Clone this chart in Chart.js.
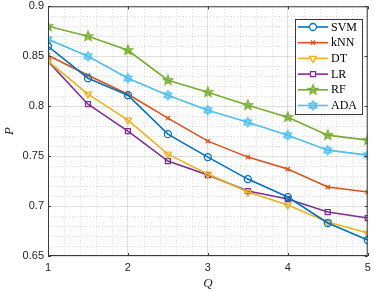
<!DOCTYPE html>
<html>
<head>
<meta charset="utf-8">
<script src="https://cdn.jsdelivr.net/npm/chart.js"></script>
<style>
  html, body { margin: 0; padding: 0; background: #fff; }
  #wrap { width: 374px; height: 291px; position: relative; }
</style>
</head>
<body>
<div id="wrap"><canvas id="chart"></canvas></div>
<script>
// Q 값 (x축)
const qValues = [1, 1.5, 2, 2.5, 3, 3.5, 4, 4.5, 5];

// 각 분류기의 P 값
const svm = [0.860, 0.828, 0.811, 0.772, 0.749, 0.727, 0.709, 0.683, 0.666];
const knn = [0.851, 0.831, 0.812, 0.788, 0.765, 0.749, 0.737, 0.719, 0.714];
const dt  = [0.845, 0.812, 0.786, 0.752, 0.732, 0.714, 0.701, 0.684, 0.673];
const lr  = [0.845, 0.802, 0.775, 0.745, 0.731, 0.715, 0.707, 0.694, 0.688];
const rf  = [0.880, 0.870, 0.856, 0.826, 0.814, 0.801, 0.789, 0.771, 0.766];
const ada = [0.867, 0.850, 0.828, 0.811, 0.796, 0.784, 0.771, 0.756, 0.751];

const seriesNames = ['SVM', 'kNN', 'DT', 'LR', 'RF', 'ADA'];
const xTicks = [1, 2, 3, 4, 5];
const yTicks = [0.65, 0.7, 0.75, 0.8, 0.85, 0.9];

const colors = ['#0072BD', '#D95319', '#EDB120', '#7E2F8E', '#77AC30', '#4DBEEE'];

// 별 모양 마커 (pentagram / hexagram)
function starMarker(color, points, r, innerRatio) {
  const size = Math.ceil(r * 2 + 4);
  const c = document.createElement('canvas');
  c.width = size; c.height = size;
  const g = c.getContext('2d');
  const cx = size / 2, cy = size / 2;
  const inner = r * innerRatio;
  g.beginPath();
  for (let i = 0; i < points * 2; i++) {
    const rad = i % 2 === 0 ? r : inner;
    const a = -Math.PI / 2 + i * Math.PI / points;
    const px = cx + rad * Math.cos(a), py = cy + rad * Math.sin(a);
    if (i === 0) g.moveTo(px, py); else g.lineTo(px, py);
  }
  g.closePath();
  g.globalAlpha = 0.55;
  g.fillStyle = color;
  g.fill();
  g.globalAlpha = 1;
  g.strokeStyle = color;
  g.lineWidth = 1.3;
  g.lineJoin = 'miter';
  g.stroke();
  return c;
}

const rfStar = starMarker(colors[4], 5, 5, 0.42);
const adaStar = starMarker(colors[5], 6, 4.5, 0.55);

function toPoints(vals) {
  return vals.map((v, i) => ({ x: qValues[i], y: v }));
}

const styles = [
  { pointStyle: 'circle', pointRadius: 3.5, rotation: 0 },
  { pointStyle: 'crossRot', pointRadius: 3, rotation: 0 },
  { pointStyle: 'triangle', pointRadius: 4, rotation: 180 },
  { pointStyle: 'rect', pointRadius: 3.5, rotation: 0 },
  { pointStyle: rfStar, pointRadius: 5, rotation: 0 },
  { pointStyle: adaStar, pointRadius: 5, rotation: 0 }
];

const allValues = [svm, knn, dt, lr, rf, ada];

const datasets = allValues.map((vals, i) => ({
  label: seriesNames[i],
  data: toPoints(vals),
  borderColor: colors[i],
  backgroundColor: 'rgba(0,0,0,0)',
  borderWidth: 1.6,
  pointStyle: styles[i].pointStyle,
  pointRadius: styles[i].pointRadius,
  pointRotation: styles[i].rotation,
  pointBorderWidth: 1.3,
  pointBorderColor: colors[i],
  pointBackgroundColor: 'rgba(0,0,0,0)',
  tension: 0
}));

// 보조 격자, 축 상자, 안쪽 눈금 그리기
const axesPlugin = {
  id: 'matlabAxes',
  beforeDatasetsDraw(chart) {
    const { ctx, chartArea: a, scales: { x, y } } = chart;
    ctx.save();
    ctx.strokeStyle = 'rgba(38,38,38,0.2)';
    ctx.lineWidth = 0.8;
    ctx.setLineDash([1, 2]);
    for (let v = 1; v <= 5.0001; v += 0.2) {
      if (Math.abs(v - Math.round(v)) < 1e-6) continue;
      const px = Math.round(x.getPixelForValue(v)) + 0.5;
      ctx.beginPath(); ctx.moveTo(px, a.top); ctx.lineTo(px, a.bottom); ctx.stroke();
    }
    for (let i = 0; i <= 25; i++) {
      const v = 0.65 + i * 0.01;
      if (i % 5 === 0) continue;
      const py = Math.round(y.getPixelForValue(v)) + 0.5;
      ctx.beginPath(); ctx.moveTo(a.left, py); ctx.lineTo(a.right, py); ctx.stroke();
    }
    ctx.restore();
  },
  afterDatasetsDraw(chart) {
    const { ctx, chartArea: a, scales: { x, y } } = chart;
    ctx.save();
    ctx.strokeStyle = '#3a3a3a';
    ctx.lineWidth = 1;
    ctx.strokeRect(a.left + 0.5, a.top + 0.5, a.right - a.left - 1, a.bottom - a.top - 1);
    const t = 3;
    xTicks.forEach(v => {
      const px = Math.round(x.getPixelForValue(v)) + 0.5;
      ctx.beginPath();
      ctx.moveTo(px, a.bottom); ctx.lineTo(px, a.bottom - t);
      ctx.moveTo(px, a.top); ctx.lineTo(px, a.top + t);
      ctx.stroke();
    });
    yTicks.forEach(v => {
      const py = Math.round(y.getPixelForValue(v)) + 0.5;
      ctx.beginPath();
      ctx.moveTo(a.left, py); ctx.lineTo(a.left + t, py);
      ctx.moveTo(a.right, py); ctx.lineTo(a.right - t, py);
      ctx.stroke();
    });
    ctx.restore();
  },
  afterDraw(chart) {
    // 범례 (플롯 안쪽 오른쪽 위)
    const { ctx } = chart;
    const box = { x: 295.5, y: 19.5, w: 67, h: 95 };
    ctx.save();
    ctx.fillStyle = '#fff';
    ctx.fillRect(box.x, box.y, box.w, box.h);
    ctx.strokeStyle = '#3a3a3a';
    ctx.lineWidth = 1;
    ctx.strokeRect(box.x, box.y, box.w, box.h);
    ctx.font = '12px "Liberation Serif", serif';
    ctx.textBaseline = 'middle';
    chart.data.datasets.forEach((ds, i) => {
      const cy = 27 + i * 15.7;
      ctx.strokeStyle = ds.borderColor;
      ctx.lineWidth = ds.borderWidth;
      ctx.beginPath(); ctx.moveTo(298, cy); ctx.lineTo(328, cy); ctx.stroke();
      ctx.lineWidth = ds.pointBorderWidth;
      ctx.fillStyle = '#fff';
      Chart.helpers.drawPoint(ctx, {
        pointStyle: ds.pointStyle,
        rotation: ds.pointRotation,
        radius: ds.pointRadius,
        borderWidth: ds.pointBorderWidth
      }, 313, cy);
      ctx.fillStyle = '#000';
      ctx.fillText(ds.label, 331, cy + 0.5);
    });
    ctx.restore();
  }
};

new Chart(document.getElementById('chart'), {
  type: 'line',
  data: { datasets: datasets },
  options: {
    responsive: true,
    maintainAspectRatio: false,
    animation: false,
    layout: { padding: { top: 5, right: 6, left: 0, bottom: 0 } },
    plugins: {
      legend: { display: false },
      tooltip: { enabled: false }
    },
    scales: {
      x: {
        type: 'linear',
        min: 1,
        max: 5,
        afterBuildTicks: s => { s.ticks = xTicks.map(v => ({ value: v })); },
        afterFit: s => { s.height = 35; s.paddingLeft = 0; s.paddingRight = 0; },
        grid: { color: 'rgba(38,38,38,0.15)', drawTicks: false },
        border: { display: false },
        ticks: {
          padding: 5,
          color: '#262626',
          font: { family: '"Liberation Sans", Arial, sans-serif', size: 11 },
          maxRotation: 0
        },
        title: {
          display: true,
          text: 'Q',
          color: '#262626',
          padding: 0,
          font: { family: '"Liberation Serif", serif', size: 13, style: 'italic' }
        }
      },
      y: {
        min: 0.65,
        max: 0.9,
        afterBuildTicks: s => { s.ticks = yTicks.map(v => ({ value: v })); },
        afterFit: s => { s.width = 48; s.paddingTop = 0; s.paddingBottom = 0; },
        grid: { color: 'rgba(38,38,38,0.15)', drawTicks: false },
        border: { display: false },
        ticks: {
          padding: 4,
          color: '#262626',
          font: { family: '"Liberation Sans", Arial, sans-serif', size: 11 },
          callback: v => String(Math.round(v * 100) / 100)
        },
        title: {
          display: true,
          text: 'P',
          color: '#262626',
          padding: 2,
          font: { family: '"Liberation Serif", serif', size: 13, style: 'italic' }
        }
      }
    }
  },
  plugins: [axesPlugin]
});
</script>
</body>
</html>
